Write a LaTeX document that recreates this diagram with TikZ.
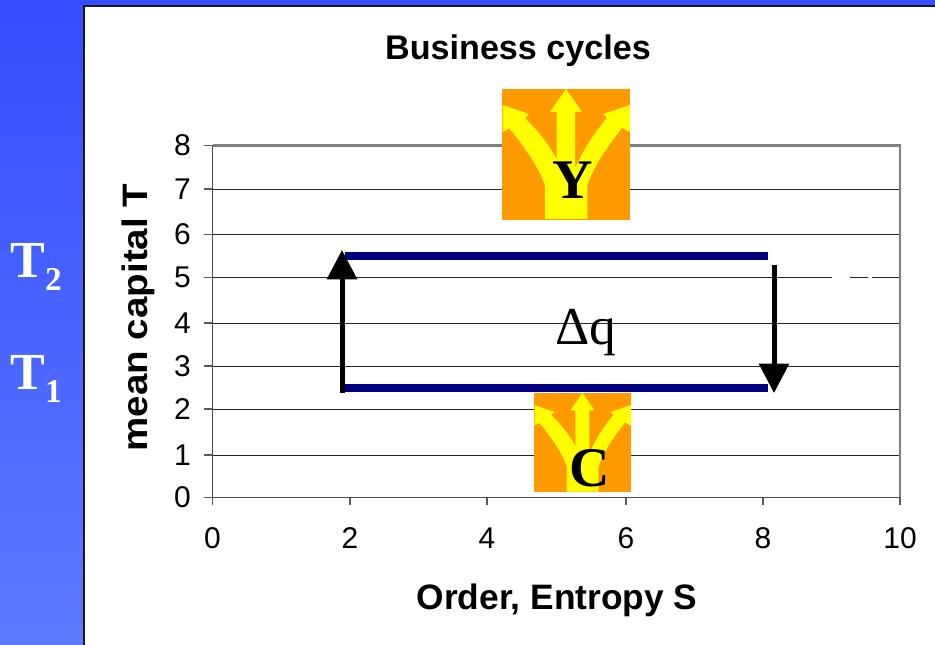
\documentclass[tikz,border=0pt]{standalone}
\usepackage{fontspec}
\setmainfont{Liberation Sans}
\newfontfamily\serifface{Liberation Serif}
\usetikzlibrary{arrows.meta}
\definecolor{slideblue}{RGB}{51,77,255}
\definecolor{slidelow}{RGB}{92,122,255}
\definecolor{cyclenavy}{RGB}{0,0,128}
\definecolor{forkorange}{RGB}{255,153,0}
\definecolor{forkyellow}{RGB}{255,255,0}
\definecolor{plotgray}{RGB}{128,128,128}
\tikzset{
    ticklabel/.style={font=\fontsize{22.5}{24}\selectfont, inner sep=0pt},
    axislabel/.style={font=\fontsize{26.5}{30}\bfseries\selectfont, inner sep=0pt},
    titlelabel/.style={font=\fontsize{25.6}{30}\bfseries\selectfont, inner sep=0pt},
    templabel/.style={font=\serifface\fontsize{39}{44}\bfseries\selectfont, text=white, inner sep=0pt},
    tempsub/.style={font=\serifface\fontsize{25}{28}\bfseries\selectfont, text=white, inner sep=0pt},
    forkletter/.style={font=\serifface\fontsize{42}{46}\bfseries\selectfont, inner sep=0pt},
    gridline/.style={black!85, line width=0.7pt},
    cycleline/.style={cyclenavy, line width=5.5pt},
    flowarrow/.style={-{Triangle[length=22pt, width=22pt]}, black, line width=3.75pt},
    forkicon/.pic={
        \fill[forkorange] (0, 0) rectangle (128, 131);
        \fill[forkyellow] (43, 130) -- (43, 97)
            .. controls (38, 80) and (22, 57) .. (7.3, 39.3)
            -- (0.7, 43) -- (0.7, 16) -- (27, 25) -- (23, 29)
            .. controls (36, 42) and (49, 58) .. (54.7, 71)
            -- (54.7, 23) -- (48, 23) -- (64, 0) -- (80, 23) -- (73, 23) -- (73, 80)
            .. controls (80, 62) and (93, 43) .. (105, 29)
            -- (101, 25) -- (128, 16) -- (128, 43) -- (120, 39)
            .. controls (105, 58) and (90, 80) .. (85.3, 97)
            -- (85.3, 130) -- cycle;
    }
}

\begin{document}
\begin{tikzpicture}[x=0.75pt, y=-0.75pt]
    \useasboundingbox (0, 0) rectangle (935, 645);
    \shade[top color=slideblue, bottom color=slidelow] (0, 0) rectangle (935, 645);
    \fill[white] (84, 6) rectangle (935, 645);
    \draw[black!90, line width=1pt] (84, 645) -- (84, 6) -- (935, 6);

    % grid
    \foreach \val/\ypos in {1/455, 2/409, 3/366, 4/323, 5/277.5, 6/234.5, 7/189} {
        \draw[gridline] (212.5, \ypos) -- (900, \ypos);
    }
    \foreach \val/\ypos in {0/497.5, 1/455, 2/409, 3/366, 4/323, 5/277.5, 6/234.5, 7/189, 8/145.5} {
        \draw[plotgray!70!black, line width=0.9pt] (204, \ypos) -- (212.5, \ypos);
        \node[ticklabel, anchor=east] (ylab\val) at (191, \ypos) {\val};
    }
    \foreach \val/\xpos in {0/212.5, 2/350, 4/487, 6/626, 8/763, 10/900} {
        \draw[plotgray!70!black, line width=0.9pt] (\xpos, 497.5) -- (\xpos, 505);
        \node[ticklabel] (xlab\val) at (\xpos, 538) {\val};
    }
    \draw[plotgray, line width=1.6pt] (212.5, 145.5) -- (900, 145.5) -- (900, 497.5);
    \draw[black!70, line width=1.3pt] (212.5, 145.5) -- (212.5, 497.5) -- (900, 497.5);

    % gaps in the line at 5
    \draw[white, line width=1.2pt] (832, 277.5) -- (850, 277.5);
    \draw[white, line width=1.2pt] (868, 277.5) -- (872, 277.5);

    \node[titlelabel] (charttitle) at (518, 51) {Business cycles};
    \node[axislabel] (xtitle) at (557, 600) {Order, Entropy S};
    \node[axislabel, rotate=90] (ytitle) at (138.5, 317.5) {\scalebox{1.09}[1]{mean capital T}};

    \pic at (502, 89) {forkicon};
    \pic[scale=0.758] at (534, 393) {forkicon};
    \node[forkletter] (ylabel) at (573, 180) {Y};
    \node[forkletter] (clabel) at (589.5, 468) {C};

    \coordinate (hotl) at (345, 256);
    \coordinate (hotr) at (768, 256);
    \coordinate (coldl) at (345, 388);
    \coordinate (coldr) at (768, 388);
    \draw[cycleline] (hotl) -- (hotr);
    \draw[cycleline] (coldl) -- (coldr);

    \coordinate (upfoot) at (342, 393);
    \coordinate (uptip) at (342, 250);
    \coordinate (downfoot) at (774, 265);
    \coordinate (downtip) at (774, 393);
    \draw[flowarrow] (upfoot) -- (uptip);
    \draw[flowarrow] (downfoot) -- (downtip);

    \node[font=\serifface\fontsize{40}{44}\selectfont, inner sep=0pt] (heat) at (586, 333) {Δq};

    \node[templabel] (tempa) at (27.5, 260) {T};
    \node[tempsub] (subtwo) at (53.5, 279) {2};
    \node[templabel] (tempb) at (27.5, 372) {T};
    \node[tempsub] (subone) at (53.5, 391) {1};
\end{tikzpicture}
\end{document}
